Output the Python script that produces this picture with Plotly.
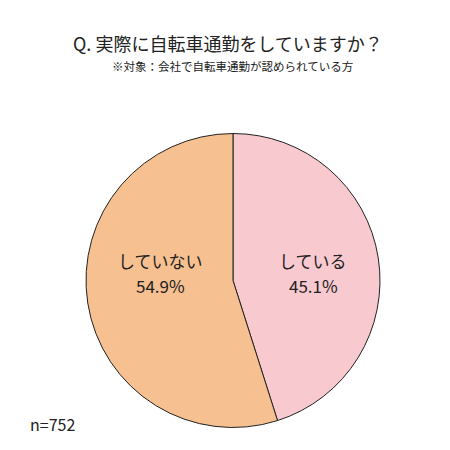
import plotly.graph_objects as go

labels = ["している", "していない"]
values = [45.1, 54.9]
colors = ["#F8C9CF", "#F6C091"]
sample_n = 752

font = "Noto Sans CJK JP"
W = 450
OFF = 8  # page body margin


def px(x):
    return (x - OFF) / W


def py(y):
    return 1 - (y - OFF) / W


fig = go.Figure(go.Pie(
    labels=labels,
    values=values,
    sort=False,
    direction="clockwise",
    rotation=0,
    marker=dict(colors=colors, line=dict(color="#222222", width=1)),
    textinfo="none",
    hoverinfo="skip",
    showlegend=False,
    domain=dict(x=[px(86), px(380)], y=[py(428), py(133)]),
))

# slice labels: name on one line, percentage below
label_x = [313, 160]
for lab, val, lx in zip(labels, values, label_x):
    fig.add_annotation(text=lab, x=px(lx), y=py(261),
                       xref="paper", yref="paper", showarrow=False,
                       xanchor="center", yanchor="middle",
                       font=dict(family=font, size=17, color="#222222"))
    fig.add_annotation(text=f"{val:.1f}%", x=px(lx), y=py(285),
                       xref="paper", yref="paper", showarrow=False,
                       xanchor="center", yanchor="middle",
                       font=dict(family=font, size=17, color="#222222"))

fig.add_annotation(text="Q. 実際に自転車通勤をしていますか？", x=px(228), y=py(43),
                   xref="paper", yref="paper", showarrow=False, yanchor="middle",
                   font=dict(family=font, size=18, color="#222222"))
fig.add_annotation(text="※対象：会社で自転車通勤が認められている方", x=px(232), y=py(66),
                   xref="paper", yref="paper", showarrow=False, yanchor="middle",
                   font=dict(family=font, size=11.5, color="#222222"))
fig.add_annotation(text="n=" + str(sample_n), x=px(28), y=py(424),
                   xref="paper", yref="paper", showarrow=False,
                   xanchor="left", yanchor="middle",
                   font=dict(family=font, size=16, color="#222222"))

fig.update_layout(width=W, height=W, margin=dict(l=0, r=0, t=0, b=0),
                  paper_bgcolor="white", plot_bgcolor="white")
fig.write_html("out.html")
